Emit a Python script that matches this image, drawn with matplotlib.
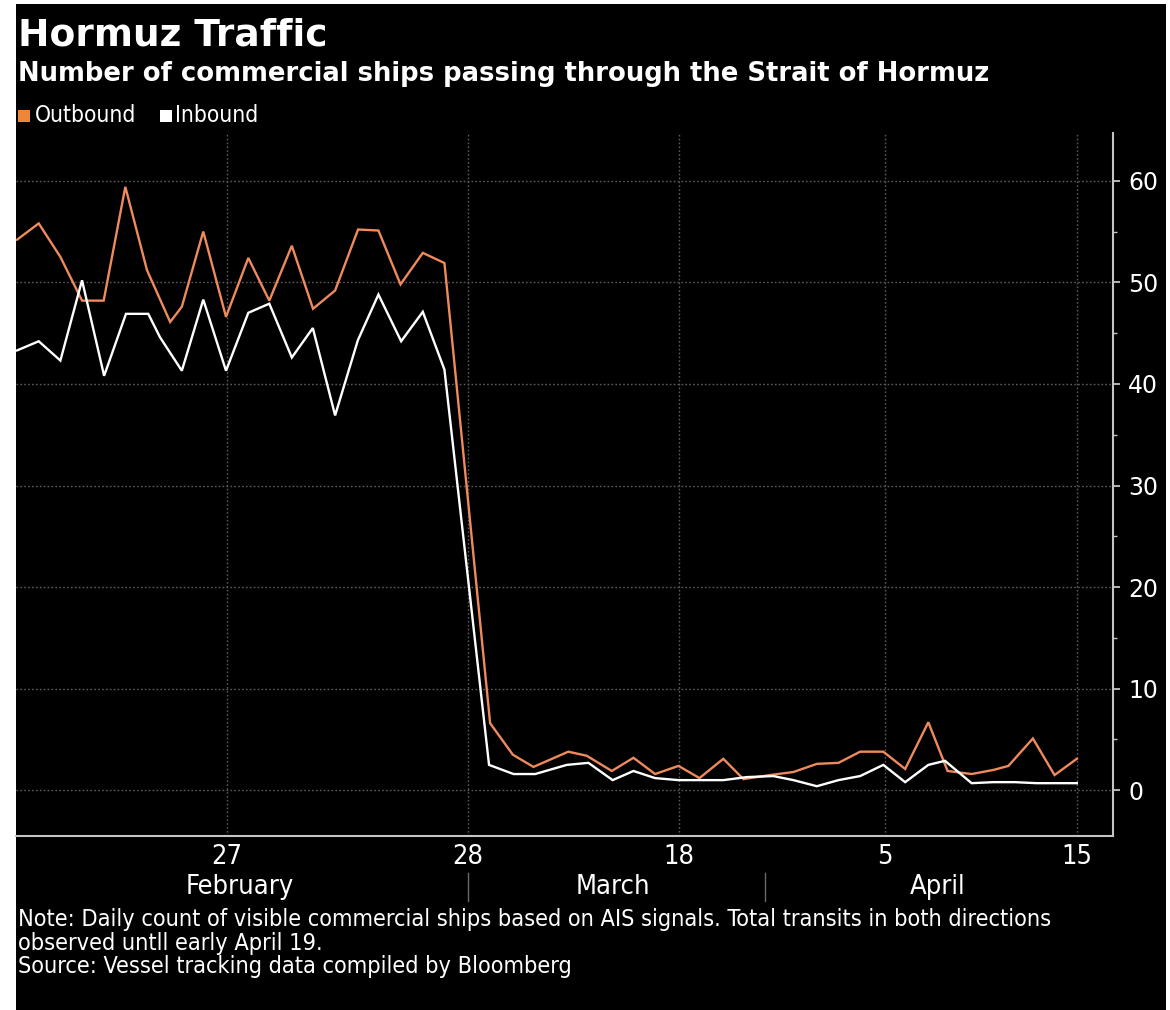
import matplotlib
matplotlib.use("Agg")
import matplotlib.pyplot as plt
from matplotlib import font_manager
from matplotlib.font_manager import FontProperties
from matplotlib.patches import Rectangle
from matplotlib.lines import Line2D

# ---------------- data ----------------
out_day = [0, 1, 2, 3, 4, 5, 6, 7.07, 7.61, 8.6, 9.65, 10.68, 11.65, 12.69, 13.67,
           14.69, 15.75, 16.69, 17.71, 18.74, 19.74, 21.85, 22.9, 23.85, 25.46,
           26.31, 27.47, 28.47, 29.47, 30.55, 31.52, 32.62, 33.55, 34.78, 35.86,
           36.94, 37.94, 38.94, 40.01, 41.02, 42.09, 42.98, 44.09, 45.09, 45.79,
           46.92, 47.92, 48.95]
outbound = [54.2, 55.8, 52.5, 48.2, 48.2, 59.4, 51.2, 46.1, 47.6, 55.0, 46.6, 52.4,
            48.2, 53.6, 47.4, 49.2, 55.2, 55.1, 49.8, 52.9, 51.9, 6.6, 3.5, 2.3,
            3.8, 3.4, 1.9, 3.2, 1.6, 2.4, 1.2, 3.1, 1.1, 1.5, 1.8, 2.6, 2.7, 3.8,
            3.8, 2.1, 6.7, 1.9, 1.6, 2.0, 2.4, 5.1, 1.5, 3.1]

in_day = [0, 1, 2, 3, 4.02, 5.03, 6.06, 6.6, 7.61, 8.6, 9.65, 10.68, 11.65, 12.69,
          13.66, 14.69, 15.74, 16.69, 17.74, 18.74, 19.74, 21.8, 22.93, 23.93,
          25.39, 26.39, 27.51, 28.47, 29.47, 30.55, 31.52, 32.62, 33.71, 34.93,
          35.86, 36.94, 37.94, 38.94, 40.01, 41.02, 42.09, 42.86, 44.09, 45.09,
          46.09, 47.09, 48.09, 48.95]
inbound = [43.3, 44.2, 42.3, 50.2, 40.8, 46.9, 46.9, 44.6, 41.3, 48.3, 41.3, 47.0,
           47.9, 42.6, 45.5, 36.9, 44.3, 48.8, 44.2, 47.1, 41.4, 2.5, 1.6, 1.6,
           2.5, 2.7, 1.0, 1.9, 1.2, 1.0, 1.0, 1.0, 1.3, 1.4, 1.0, 0.4, 1.0, 1.4,
           2.5, 0.8, 2.5, 2.9, 0.7, 0.8, 0.8, 0.7, 0.7, 0.7]

tick_labels = ["27", "28", "18", "5", "15"]
month_labels = ["February", "March", "April"]
y_ticks = [0, 10, 20, 30, 40, 50, 60]

# ---------------- layout ----------------
tick_pos = [9.70, 20.81, 30.58, 40.09, 48.96]
month_pos = [10.3, 27.53, 42.54]
separator_pos = [20.83, 34.55]

W, H = 1170, 1010
ORANGE = "#ef8a5c"
ORANGE_SQ = "#ee8638"
GRID = "#5c5c5c"
SPINE = "#c4c4c4"

cond_fp = FontProperties(family="DejaVu Sans", stretch="condensed")
COND = "Condensed" in font_manager.findfont(cond_fp)
CF = dict(family="DejaVu Sans", stretch="condensed") if COND else dict(family="DejaVu Sans")
note_size = 16.8 if COND else 15.4
lab_size = 19.5 if COND else 17.8
leg_size = 16.3 if COND else 14.8

fig = plt.figure(figsize=(W / 100, H / 100), dpi=100, facecolor="white")
fig.patches.append(Rectangle((16 / W, 0), (1166 - 16) / W, (H - 4) / H,
                             transform=fig.transFigure, facecolor="black",
                             edgecolor="none", zorder=-10))

ax = fig.add_axes([16 / W, (H - 836) / H, (1113 - 16) / W, (836 - 133) / H])
ax.set_facecolor("black")

ax.plot(out_day, outbound, color=ORANGE, lw=1.7, solid_joinstyle="miter", zorder=3)
ax.plot(in_day, inbound, color="white", lw=1.7, solid_joinstyle="miter", zorder=4)

ax.set_xlim(-0.05, 50.62)
ax.set_ylim(-4.5, 64.7)

# spines
for s in ["top", "left"]:
    ax.spines[s].set_visible(False)
for s in ["right", "bottom"]:
    ax.spines[s].set_color(SPINE)
    ax.spines[s].set_linewidth(1.5)

# y axis on right
ax.yaxis.tick_right()
ax.set_yticks(y_ticks)
ax.set_yticks([5, 15, 25, 35, 45, 55], minor=True)
ax.tick_params(axis="y", which="major", direction="out", length=5, width=1.3,
               color=SPINE, labelcolor="white", labelsize=17, pad=6)
ax.tick_params(axis="y", which="minor", direction="out", length=3, width=1.0,
               color=SPINE)

# x axis
ax.set_xticks(tick_pos)
ax.set_xticklabels(tick_labels, fontsize=lab_size, color="white", **CF)
ax.tick_params(axis="x", which="major", length=0, pad=6)

ax.grid(True, which="major", color=GRID, linestyle=(0, (1.2, 1.6)), lw=1.0)
ax.set_axisbelow(True)

trans = ax.get_xaxis_transform()
for x, m in zip(month_pos, month_labels):
    ax.text(x, -0.073, m, transform=trans, ha="center", va="center",
            fontsize=lab_size, color="white", **CF)
for x in separator_pos:
    ax.add_line(Line2D([x, x], [-0.052, -0.092], transform=trans, color="#6a6a6a",
                       lw=1.0, clip_on=False))

# titles
fig.text(18 / W, 1 - 45 / H, "Hormuz Traffic", fontsize=27, weight="bold",
         color="white", va="baseline", family="DejaVu Sans")
fig.text(18 / W, 1 - 81 / H,
         "Number of commercial ships passing through the Strait of Hormuz",
         fontsize=18.6, weight="bold", color="white", va="baseline", family="DejaVu Sans")

# legend
fig.patches.append(Rectangle((18 / W, 1 - 122 / H), 12 / W, 12 / H, transform=fig.transFigure,
                             facecolor=ORANGE_SQ, edgecolor="none"))
fig.text(35 / W, 1 - 116 / H, "Outbound", fontsize=leg_size, color="white", va="center", **CF)
fig.patches.append(Rectangle((160 / W, 1 - 122 / H), 12 / W, 12 / H, transform=fig.transFigure,
                             facecolor="white", edgecolor="none"))
fig.text(175 / W, 1 - 116 / H, "Inbound", fontsize=leg_size, color="white", va="center", **CF)

# notes
notes = [
    ("Note: Daily count of visible commercial ships based on AIS signals. Total transits in both directions", 926),
    ("observed untll early April 19.", 950),
    ("Source: Vessel tracking data compiled by Bloomberg", 973),
]
for t, yb in notes:
    fig.text(18 / W, 1 - yb / H, t, fontsize=note_size, color="white", va="baseline", **CF)

fig.savefig("out.png", dpi=100, facecolor=fig.get_facecolor())
